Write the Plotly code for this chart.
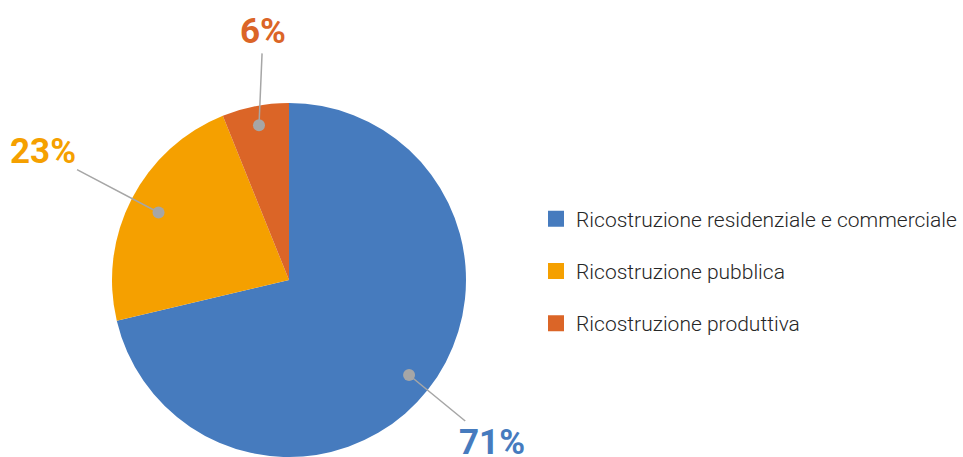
import math
import plotly.graph_objects as go

# quota della ricostruzione per tipologia (%)
labels = ["Ricostruzione residenziale e commerciale",
          "Ricostruzione pubblica",
          "Ricostruzione produttiva"]
values = [71.3, 22.6, 6.1]
colors = ["#467BBE", "#F5A000", "#DB6527"]

W, H = 963, 457
dom_x = [112 / W, 466 / W]
dom_y = [0.0, 1 - 103 / H]

fig = go.Figure()
fig.add_trace(go.Pie(labels=labels, values=values, sort=False,
                     direction="clockwise", rotation=0,
                     marker=dict(colors=colors), textinfo="none",
                     hoverinfo="label+percent", showlegend=False,
                     domain=dict(x=dom_x, y=dom_y)))

# legenda con quadratini colorati
for lab, col in zip(labels, colors):
    fig.add_trace(go.Scatter(x=[None], y=[None], mode="markers", name=lab,
                             legendgroup=lab,
                             marker=dict(symbol="square", size=19, color=col)))

# etichette percentuali con linee guida
cx = (dom_x[0] + dom_x[1]) / 2
cy = (dom_y[0] + dom_y[1]) / 2
r = (dom_x[1] - dom_x[0]) * W / 2
offsets = [(83, 68), (-116, -61), (4, -94)]
rfrac = [0.865, 0.83, 0.89]
tot = sum(values)
cum = 0
for v, col, (ax, ay), rf in zip(values, colors, offsets, rfrac):
    mid = (cum + v / 2) / tot * 2 * math.pi
    cum += v
    px = cx + math.sin(mid) * r * rf / W
    py = cy + math.cos(mid) * r * rf / H
    fig.add_annotation(x=px, y=py, xref="paper", yref="paper",
                       text=f"<b>{round(v)}%</b>", showarrow=True,
                       ax=ax, ay=ay, arrowhead=6, arrowsize=2,
                       arrowwidth=1.5, arrowcolor="#A6A6A6", standoff=0,
                       font=dict(family="Roboto", size=35, color=col))

fig.update_layout(
    width=W, height=H,
    margin=dict(l=0, r=0, t=0, b=0),
    paper_bgcolor="white", plot_bgcolor="white",
    xaxis=dict(visible=False), yaxis=dict(visible=False),
    legend=dict(x=536 / W, y=1 - 271 / H,
                xanchor="left", yanchor="middle", tracegroupgap=22,
                font=dict(family="Roboto", size=21, color="#262626", weight=300)),
)

# niente margine della pagina: la figura riempie la finestra
fig.write_html("out.html", config={"displayModeBar": False},
               post_script="document.body.style.margin='0';")
